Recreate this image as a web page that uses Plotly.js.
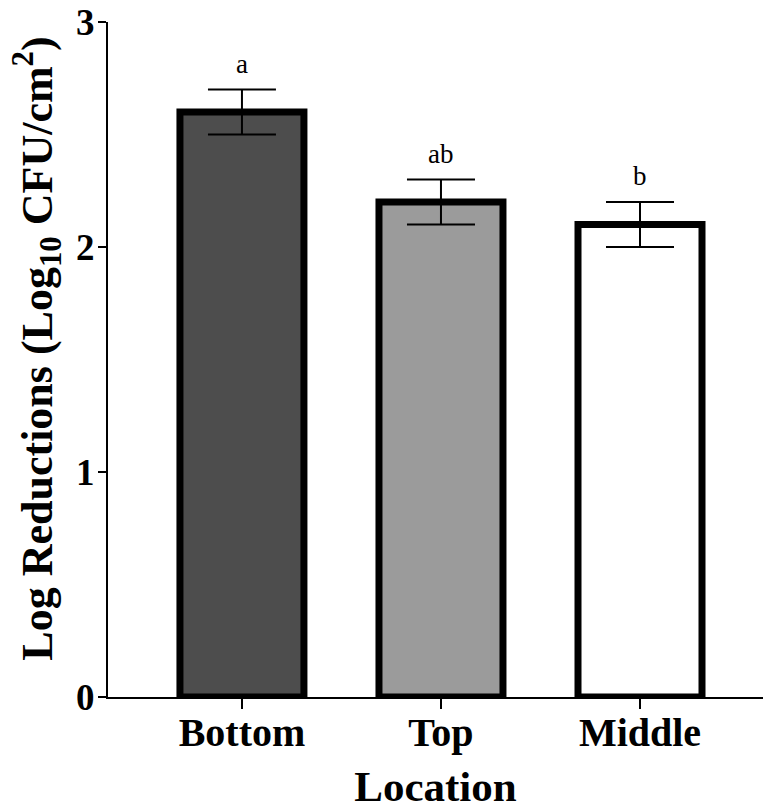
<!DOCTYPE html>
<html>
<head>
<meta charset="utf-8">
<script src="https://cdn.plot.ly/plotly-3.0.1.min.js"></script>
<style>html,body{margin:0;padding:0;background:#fff;}</style>
</head>
<body>
<div id="chart" style="width:763px;height:810px;"></div>
<script>
var categories = ['Bottom', 'Top', 'Middle'];
var means = [2.6, 2.2, 2.1];
var errors = [0.1, 0.1, 0.1];
var letters = ['a', 'ab', 'b'];
var fills = ['#4d4d4d', '#9b9b9b', '#ffffff'];
var yTicks = [0, 1, 2, 3];

var serif = '"Liberation Serif", "Times New Roman", Times, serif';

var trace = {
  type: 'bar',
  x: categories,
  y: means,
  width: 0.623,
  marker: {color: fills, line: {color: '#000', width: 7}},
  error_y: {type: 'data', array: errors, visible: true, color: '#000', thickness: 2, width: 34},
  hoverinfo: 'none'
};

var annotations = categories.map(function (c, i) {
  return {
    x: c, y: means[i] + errors[i], xref: 'x', yref: 'y',
    text: letters[i], showarrow: false, yanchor: 'bottom', yshift: 9,
    font: {family: serif, size: 27, color: '#000'}
  };
});

var layout = {
  width: 763, height: 810,
  margin: {l: 108, r: 0, t: 22, b: 113, pad: 0},
  paper_bgcolor: '#fff', plot_bgcolor: '#fff',
  showlegend: false,
  bargap: 0.377,
  xaxis: {
    range: [-0.673, 2.618],
    showline: true, linecolor: '#000', linewidth: 2,
    ticks: 'outside', ticklen: 10, tickwidth: 2, tickcolor: '#000',
    showgrid: false, zeroline: false,
    ticklabelstandoff: -11,
    tickfont: {family: serif, size: 40, color: '#000', weight: 'bold'},
    title: {text: 'Location', font: {family: serif, size: 43, color: '#000', weight: 'bold'}, standoff: 25}
  },
  yaxis: {
    range: [0, 3],
    tickvals: yTicks,
    ticktext: yTicks.map(String),
    showline: true, linecolor: '#000', linewidth: 2,
    ticks: 'outside', ticklen: 8, tickwidth: 2, tickcolor: '#000',
    showgrid: false, zeroline: false,
    ticklabelstandoff: -4,
    tickfont: {family: serif, size: 37, color: '#000', weight: 'bold'},
    title: {text: '&nbsp;&nbsp;Log Reductions (Log<sub>10</sub> CFU/cm<sup>2</sup>)', font: {family: serif, size: 44, color: '#000', weight: 'bold'}, standoff: 10}
  },
  annotations: annotations
};

Plotly.newPlot('chart', [trace], layout, {displayModeBar: false, staticPlot: true});
</script>
</body>
</html>
